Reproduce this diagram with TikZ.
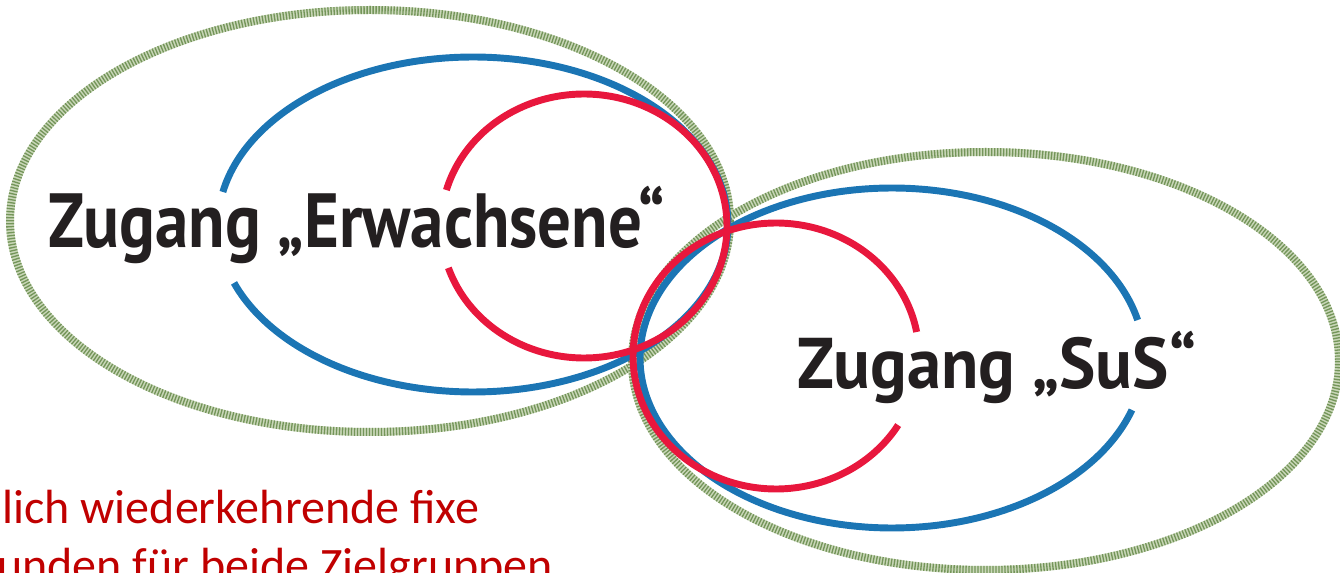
\documentclass[tikz,border=0pt]{standalone}
\usepackage{fontspec}
\usepackage{graphicx}
\newfontfamily\headfont{PT Sans}
\newfontfamily\calfont{Carlito}
\definecolor{gdark}{HTML}{74955A}
\definecolor{glight}{HTML}{C9D7B8}
\definecolor{cblue}{HTML}{1B75B4}
\definecolor{cred}{HTML}{E8173D}
\definecolor{ctext}{HTML}{231F20}
\definecolor{cnote}{HTML}{C00000}
\tikzset{
  greenbase/.style={draw=glight, line width=6pt},
  greenhatch/.style={draw=gdark, line width=6pt, dash pattern=on 1pt off 1.25pt},
  blueline/.style={draw=cblue, line width=5.2pt},
  redline/.style={draw=cred, line width=5.2pt},
  headtext/.style={inner sep=0pt, anchor=base west, text=ctext, font=\headfont\bfseries},
  notetext/.style={inner sep=0pt, anchor=base west, text=cnote, font=\calfont\fontsize{36}{43}\selectfont}
}
\begin{document}
\begin{tikzpicture}[x=0.75pt, y=-0.75pt]
\useasboundingbox (0,0) rectangle (1340,573);
\clip (0,0) rectangle (1340,573);
% green hatched ellipses
\draw[greenbase] (370,221) ellipse [x radius=360, y radius=211];
\draw[greenhatch] (370,221) ellipse [x radius=360, y radius=211];
\draw[greenbase] (985.5,361) ellipse [x radius=353.5, y radius=209];
\draw[greenhatch] (985.5,361) ellipse [x radius=353.5, y radius=209];
% blue ellipses with gaps
\draw[blueline] plot[domain=191.2:519.6, samples=240] ({473+255*cos(\x)},{224.5+167.5*sin(\x)});
\draw[blueline] plot[domain=17.8:347.1, samples=240] ({892+252*cos(\x)},{358+170*sin(\x)});
% red ellipses with gaps
\draw[redline] plot[domain=195.8:521.5, samples=200] ({584+143*cos(\x)},{226+132*sin(\x)});
\draw[redline] plot[domain=31.3:349.6, samples=200] ({776+143*cos(\x)},{356+133*sin(\x)});
% labels
\node[headtext] (erw) at (48,248) {\resizebox{462.75pt}{46pt}{Zugang „Erwachsene“}};
\node[headtext] (sus) at (797,389) {\resizebox{299.25pt}{43pt}{Zugang „SuS“}};
\node[notetext] (note1) at (2,524) {lich wiederkehrende fixe};
\node[notetext] (note2) at (-3,582) {unden für beide Zielgruppen};
\end{tikzpicture}
\end{document}
